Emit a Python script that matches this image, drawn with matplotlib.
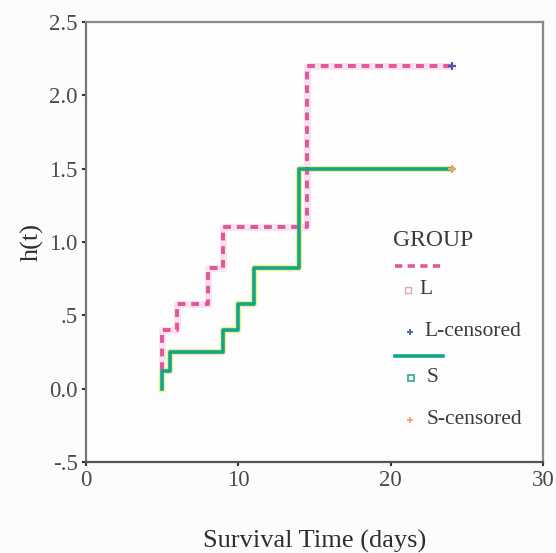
import matplotlib
matplotlib.use("Agg")
import matplotlib.pyplot as plt

# cumulative hazard, step curves (value holds until next time)
l_times = [5, 5, 6, 8, 9, 14.5, 24]
l_hazard = [0.13, 0.40, 0.58, 0.82, 1.10, 2.20, 2.20]
s_times = [5, 5, 5.5, 9, 10, 11, 14, 24]
s_hazard = [0.0, 0.12, 0.25, 0.40, 0.58, 0.82, 1.50, 1.50]
l_censored = ([24], [2.20])
s_censored = ([24], [1.50])

x_ticks = [0, 10, 20, 30]
y_ticks = [-0.5, 0.0, 0.5, 1.0, 1.5, 2.0, 2.5]
y_tick_labels = ["-.5", "0.0", ".5", "1.0", "1.5", "2.0", "2.5"]

pink = "#e2559c"
teal = "#13a58c"
serif = ["Liberation Serif", "DejaVu Serif"]

plt.rcParams['font.family'] = serif

fig = plt.figure(figsize=(5.56, 5.53), dpi=100)
fig.patch.set_facecolor("#fbfcfe")
ax = fig.add_axes([0.1547, 0.1646, 0.8219, 0.7956])
ax.set_facecolor("#fdfdfe")

# soft halos under the lines, like the blurred original
ax.step(l_times, l_hazard, where="post", color="#f6c9dd", lw=5, alpha=0.5, zorder=1)
ax.step(s_times, s_hazard, where="post", color="#f3ec8a", lw=4.5, zorder=2)
ax.step(l_times, l_hazard, where="post", color=pink, lw=2.8, ls=(0, (2.0, 1.5)), zorder=3)
ax.step(s_times, s_hazard, where="post", color=teal, lw=2.6, zorder=4)
ax.plot(*l_censored, ls="none", marker="+", color="#3d5fb5", ms=6, mew=1.5, zorder=5)
ax.plot(*s_censored, ls="none", marker="+", color="#f0a070", ms=6, mew=1.5, zorder=5)

ax.set_xlim(0, 30)
ax.set_ylim(-0.5, 2.5)
ax.set_xticks(x_ticks)
ax.set_yticks(y_ticks)
ax.set_yticklabels(y_tick_labels)
ax.tick_params(direction="out", length=3, width=1.5, color="#333333",
               labelsize=16.5, labelcolor="#4a4a4a", pad=3)
for sp in ax.spines.values():
    sp.set_color("#8a8a8a")
    sp.set_linewidth(1.6)
ax.spines["bottom"].set_color("#555555")
ax.spines["left"].set_color("#777777")

ax.set_xlabel("Survival Time (days)", fontsize=19, color="#2e2e2e", labelpad=28)
ax.set_ylabel("h(t)", fontsize=19, color="#2e2e2e", labelpad=4)

# hand-placed legend in axes fraction
def fx(px):
    return (px - 86) / 457.0

def fy(py):
    return (462 - py) / 440.0

tk = dict(transform=ax.transAxes, va="center", ha="left", color="#3a3a3a")
ax.text(fx(393), fy(241), "GROUP", fontsize=17, **tk)
ax.plot([fx(395), fx(443)], [fy(266), fy(266)], transform=ax.transAxes,
        color=pink, lw=2.6, ls=(0, (2.0, 1.5)))
ax.plot([fx(408)], [fy(290)], transform=ax.transAxes, marker="s", ms=4,
        mfc="none", mec="#e6a0c0", mew=1)
ax.text(fx(419), fy(290), "L", fontsize=15.5, **tk)
ax.plot([fx(410)], [fy(332)], transform=ax.transAxes, marker="+", ms=5,
        color="#3d5fb5", mew=1.3)
ax.text(fx(424), fy(332), "L-censored", fontsize=15.5, **tk)
ax.plot([fx(395), fx(443)], [fy(356), fy(356)], transform=ax.transAxes,
        color=teal, lw=2.6)
ax.plot([fx(411)], [fy(378)], transform=ax.transAxes, marker="s", ms=4,
        mfc="none", mec="#2aa890", mew=1.2)
ax.text(fx(427), fy(378), "S", fontsize=15.5, **tk)
ax.plot([fx(410)], [fy(420)], transform=ax.transAxes, marker="+", ms=5,
        color="#f0a070", mew=1.3)
ax.text(fx(427), fy(420), "S-censored", fontsize=15.5, **tk)

fig.savefig("out.png", dpi=100, facecolor=fig.get_facecolor())
